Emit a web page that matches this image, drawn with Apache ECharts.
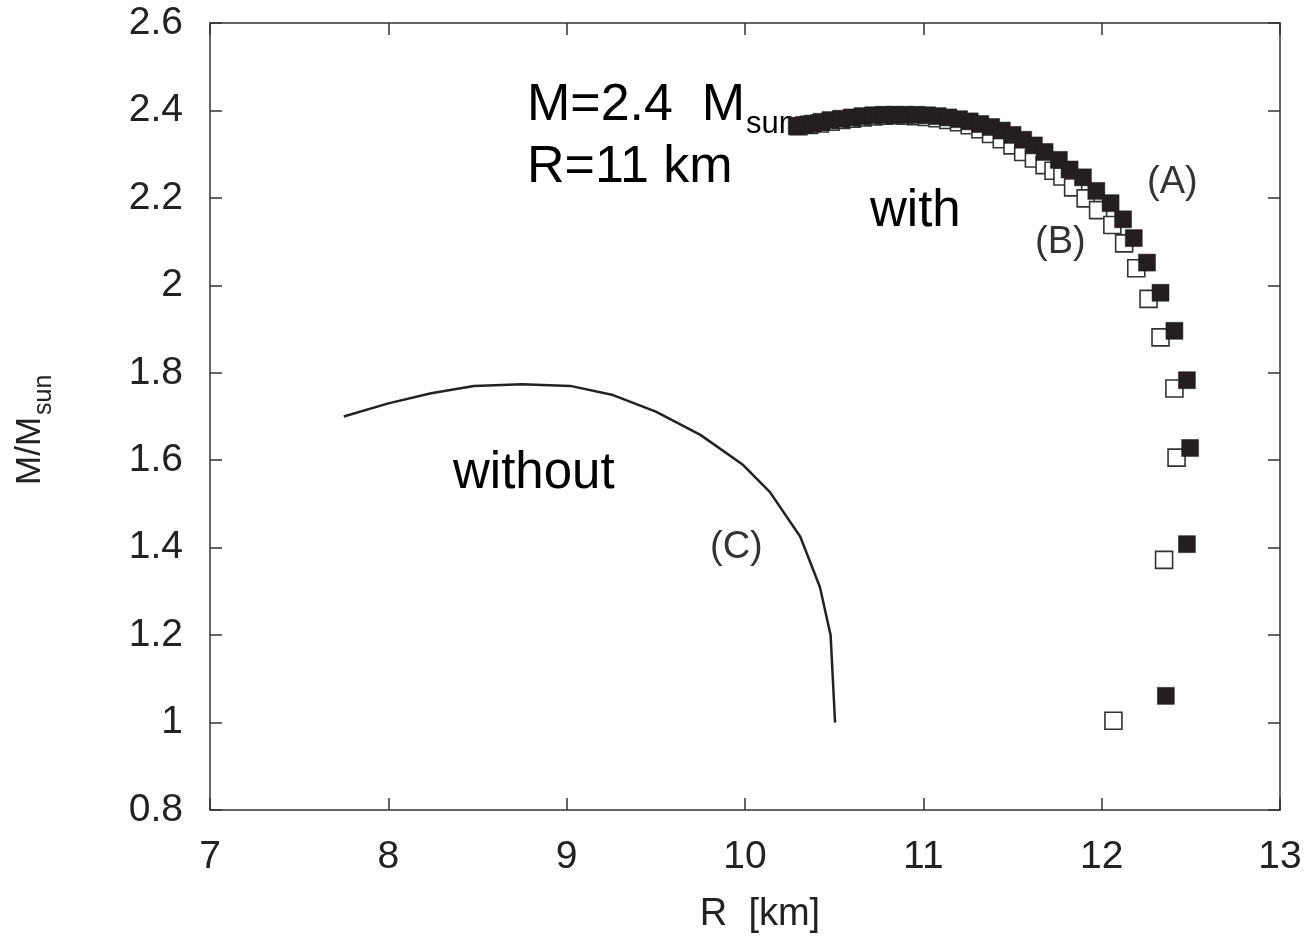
<!DOCTYPE html>
<html>
<head>
<meta charset="utf-8">
<title>M-R</title>
<script src="https://cdn.jsdelivr.net/npm/echarts@6/dist/echarts.min.js"></script>
<style>
html, body { margin: 0; padding: 0; background: #fff; }
#chart { width: 1315px; height: 940px; }
</style>
</head>
<body>
<div id="chart"></div>
<script>
// curve (C), without
var lineR = [7.75, 8.0, 8.24, 8.48, 8.75, 9.02, 9.26, 9.5, 9.75, 9.99, 10.14, 10.31, 10.42, 10.48, 10.505];
var lineM = [1.70, 1.73, 1.753, 1.77, 1.774, 1.77, 1.749, 1.711, 1.658, 1.589, 1.527, 1.425, 1.31, 1.2, 1.0];

// (A) filled squares
var aR = [10.29, 10.33, 10.38, 10.43, 10.48, 10.54, 10.6, 10.66, 10.72, 10.78, 10.84, 10.9, 10.96, 11.02, 11.08, 11.14, 11.2, 11.26, 11.32, 11.38, 11.44, 11.5, 11.56, 11.62, 11.68, 11.76, 11.82, 11.895, 11.97, 12.05, 12.12, 12.18, 12.254, 12.33, 12.408, 12.478, 12.496, 12.478, 12.36];
var aM = [2.364, 2.367, 2.37, 2.374, 2.378, 2.381, 2.384, 2.387, 2.389, 2.39, 2.39, 2.39, 2.39, 2.389, 2.387, 2.384, 2.38, 2.375, 2.369, 2.362, 2.354, 2.344, 2.333, 2.32, 2.305, 2.287, 2.265, 2.247, 2.216, 2.188, 2.151, 2.108, 2.052, 1.983, 1.896, 1.783, 1.628, 1.408, 1.061];

// (B) open squares
var bR = [10.3, 10.36, 10.42, 10.48, 10.54, 10.6, 10.66, 10.72, 10.78, 10.84, 10.9, 10.96, 11.02, 11.08, 11.14, 11.2, 11.26, 11.32, 11.38, 11.44, 11.5, 11.56, 11.62, 11.68, 11.73, 11.78, 11.84, 11.91, 11.98, 12.06, 12.126, 12.194, 12.263, 12.33, 12.408, 12.42, 12.35, 12.066];
var bM = [2.364, 2.367, 2.37, 2.374, 2.378, 2.381, 2.384, 2.386, 2.388, 2.389, 2.388, 2.387, 2.385, 2.382, 2.378, 2.373, 2.366, 2.357, 2.346, 2.334, 2.32, 2.305, 2.29, 2.275, 2.262, 2.249, 2.224, 2.199, 2.172, 2.138, 2.096, 2.039, 1.969, 1.881, 1.764, 1.606, 1.372, 1.004];

var FONT = '"Liberation Sans", Arial, sans-serif';

function pairs(xs, ys) {
    var out = [];
    for (var i = 0; i < xs.length; i++) out.push([xs[i], ys[i]]);
    return out;
}

function axisX(pos, show) {
    return {
        type: 'value', position: pos, min: 7, max: 13, interval: 1,
        axisLine: { show: true, onZero: false, lineStyle: { color: '#333', width: 1.5 } },
        axisTick: { show: true, inside: true, length: 12, lineStyle: { color: '#333', width: 1.5 } },
        axisLabel: { show: show, margin: 28, fontSize: 39, color: '#222', fontFamily: FONT },
        splitLine: { show: false }
    };
}
function axisY(pos, show) {
    return {
        type: 'value', position: pos, min: 0.8, max: 2.6, interval: 0.2,
        axisLine: { show: true, onZero: false, lineStyle: { color: '#333', width: 1.5 } },
        axisTick: { show: true, inside: true, length: 12, lineStyle: { color: '#333', width: 1.5 } },
        axisLabel: { show: show, margin: 27, fontSize: 39, color: '#222', fontFamily: FONT },
        splitLine: { show: false }
    };
}

var xMain = axisX('bottom', true);
xMain.name = 'R  [km]';
xMain.nameLocation = 'middle';
xMain.nameGap = 86;
xMain.nameTextStyle = { fontSize: 38, color: '#222', fontFamily: FONT, padding: [0, 0, 0, 30] };

var option = {
    animation: false,
    backgroundColor: '#fff',
    grid: { left: 210, right: 35, top: 23, bottom: 130 },
    xAxis: [xMain, axisX('top', false)],
    yAxis: [axisY('left', true), axisY('right', false)],
    series: [
        {
            name: 'C', type: 'line', data: pairs(lineR, lineM),
            showSymbol: false, smooth: false,
            lineStyle: { color: '#222', width: 2.5 }
        },
        {
            name: 'B', type: 'scatter', data: pairs(bR, bM),
            symbol: 'rect', symbolSize: 17,
            itemStyle: { color: '#fff', borderColor: '#333', borderWidth: 1.6, opacity: 1 }
        },
        {
            name: 'A', type: 'scatter', data: pairs(aR, aM),
            symbol: 'rect', symbolSize: 17,
            itemStyle: { color: '#231f20', borderColor: '#231f20', borderWidth: 0.5, opacity: 1 }
        }
    ],
    graphic: [
        { type: 'text', x: 527, y: 106, style: { text: 'M=2.4  M', font: '52px ' + FONT, fill: '#000', textAlign: 'left', textVerticalAlign: 'middle' } },
        { type: 'text', x: 746, y: 124, style: { text: 'sun', font: '31px ' + FONT, fill: '#000', textAlign: 'left', textVerticalAlign: 'middle' } },
        { type: 'text', x: 527, y: 168, style: { text: 'R=11 km', font: '52px ' + FONT, fill: '#000', textAlign: 'left', textVerticalAlign: 'middle' } },
        { type: 'text', x: 870, y: 212, style: { text: 'with', font: '51px ' + FONT, fill: '#000', textAlign: 'left', textVerticalAlign: 'middle' } },
        { type: 'text', x: 453, y: 474, style: { text: 'without', font: '51px ' + FONT, fill: '#000', textAlign: 'left', textVerticalAlign: 'middle' } },
        { type: 'text', x: 1147, y: 183, style: { text: '(A)', font: '38px ' + FONT, fill: '#333', textAlign: 'left', textVerticalAlign: 'middle' } },
        { type: 'text', x: 1035, y: 243, style: { text: '(B)', font: '38px ' + FONT, fill: '#333', textAlign: 'left', textVerticalAlign: 'middle' } },
        { type: 'text', x: 710, y: 548, style: { text: '(C)', font: '38px ' + FONT, fill: '#333', textAlign: 'left', textVerticalAlign: 'middle' } },
        {
            type: 'group', x: 48, y: 485, rotation: Math.PI / 2,
            children: [
                { type: 'text', x: 0, y: 0, style: { text: 'M/M', font: '35px ' + FONT, fill: '#222', textAlign: 'left', textVerticalAlign: 'bottom' } },
                { type: 'text', x: 70, y: 9, style: { text: 'sun', font: '25px ' + FONT, fill: '#222', textAlign: 'left', textVerticalAlign: 'bottom' } }
            ]
        }
    ]
};

var myChart = echarts.init(document.getElementById('chart'));
myChart.setOption(option);
</script>
</body>
</html>
